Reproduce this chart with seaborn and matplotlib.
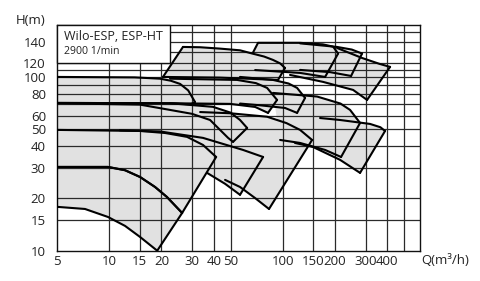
import numpy as np
import matplotlib
matplotlib.use("Agg")
import matplotlib.pyplot as plt
import seaborn as sns

# ---- axis data ----
x_ticks = [5, 10, 15, 20, 30, 40, 50, 100, 150, 200, 300, 400]
x_grid = [10, 15, 20, 30, 40, 50, 100, 150, 200, 300, 400, 500]
y_ticks = [10, 15, 20, 30, 40, 50, 60, 80, 100, 120, 140]
y_grid = [15, 20, 30, 40, 50, 60, 70, 80, 90, 100, 110, 120, 130, 140, 150]

# ---- pump fields (Q in m3/h, H in m): top curve and bottom curve, left -> right ----
a32_q_top = [5, 9.83, 12.33, 15.05, 18.36, 21.5, 26.3]
a32_h_top = [30.4, 30.4, 29.1, 26.6, 23.3, 20.4, 16.5]
a32_q_bot = [5, 7.25, 9.83, 12.33, 15.05, 18.9]
a32_h_bot = [17.9, 17.4, 15.65, 13.9, 12.0, 10.0]

b32_q_top = [5, 15.05, 21.0, 28.1, 34.7, 41.3]
b32_h_top = [49.7, 49.0, 47.7, 45.3, 40.7, 34.7]

b40_q_top = [11.5, 19.6, 34.7, 59.0, 77.0]
b40_h_top = [49.4, 48.7, 44.7, 38.1, 34.7]
b40_q_bot = [36.6, 46.5, 56.7]
b40_h_bot = [28.1, 24.3, 21.0]

b50_q_top = [33.4, 49.7, 81.2, 105, 125.8, 147.5]
b50_h_top = [63.0, 62.0, 59.2, 54.4, 49.7, 43.5]
b50_q_bot = [46.5, 56.7, 69.3, 83.3]
b50_h_bot = [25.6, 23.3, 20.1, 17.4]

b65_q_top = [87.8, 157.6, 215, 244.2, 278.8]
b65_h_top = [81.2, 77.4, 70.5, 64.8, 54.5]
b65_q_bot = [96.5, 125.8, 175.3, 216.7]
b65_h_bot = [43.5, 41.8, 38.1, 34.7]

b80_q_top = [164, 213.8, 318.4, 365, 388.5]
b80_h_top = [58.2, 56.7, 53.8, 51.5, 49.0]
b80_q_bot = [117.6, 149.5, 213.8, 278.8]
b80_h_bot = [41.8, 39.6, 33.4, 28.1]

c32_q_top = [5, 22.4, 39.6, 50.0, 56.7, 62.3]
c32_h_top = [71.1, 70.8, 67.5, 62.5, 56.7, 51.0]
c32_q_bot = [5, 15.05, 22.4, 30.0, 38.1, 48.4, 51.7]
c32_h_bot = [70.8, 69.5, 64.8, 61.5, 56.7, 44.7, 42.4]

d32_q_top = [5, 14.0, 19.6, 22.6, 25.6, 28.5, 31.2]
d32_h_top = [100.4, 99.8, 98.1, 95.5, 91.5, 84.0, 72.0]
d32_q_bot = [5, 22.4, 29.5]
d32_h_bot = [71.1, 70.8, 69.8]

d40_q_top = [22.4, 54.5, 70.0, 81.2, 92.7]
d40_h_top = [98.1, 96.5, 92.5, 86.8, 74.0]
d40_q_bot = [22.4, 49.7, 69.3, 82.2]
d40_h_bot = [70.8, 70.2, 67.4, 62.3]

d50_q_top = [56.7, 87.8, 108, 120.9, 134.4]
d50_h_top = [100.4, 96.5, 92.0, 86.8, 76.0]
d50_q_bot = [56.7, 74.0, 103, 120.9]
d50_h_bot = [70.5, 68.9, 66.5, 62.3]

t1_q_top = [26.6, 33.4, 43.5, 56.7, 67.5, 78.0, 87.8, 96.5, 103]
t1_h_top = [135.0, 134.7, 133.4, 131.8, 128.6, 126.1, 123.1, 120.1, 113.1]
t1_q_bot = [20.4, 43.5, 93.9]
t1_h_bot = [100.4, 99.5, 96.5]

ta_q_top = [67.5, 72.0, 125.8, 170, 194.9, 208.3]
ta_h_top = [130.0, 139.0, 139.0, 137.5, 135.3, 128.8]
ta_q_bot = [69.3, 125.8, 175.3]
ta_h_bot = [110.0, 105.9, 100.4]

tb_q_top = [125.8, 205.5, 250, 286.3]
tb_h_top = [138.5, 135.0, 132.5, 128.8]
tb_q_bot = [125.8, 187.3, 247.5]
tb_h_bot = [110.2, 107.0, 101.7]

tc_q_top = [205.5, 286.3, 360, 415.2]
tc_h_top = [134.0, 124.8, 119.5, 114.7]
tc_q_bot = [110.1, 170.7, 254.2, 306]
tc_h_bot = [103.1, 94.0, 84.5, 74.0]

# shaded area between the 32-160 and 32-200 fields at the left
gap_q = [5, 28.1, 41.3, 51.7, 48.4, 38.1, 22.4, 15.05, 5]
gap_h = [49.7, 45.3, 34.7, 42.4, 44.7, 56.7, 64.8, 69.5, 70.8]

# (top Q, top H, bottom Q, bottom H, draw left edge)
fields = [
    (a32_q_top, a32_h_top, a32_q_bot, a32_h_bot, True),
    (b32_q_top, b32_h_top, a32_q_top, a32_h_top, True),
    (b40_q_top, b40_h_top, b40_q_bot, b40_h_bot, False),
    (b50_q_top, b50_h_top, b50_q_bot, b50_h_bot, False),
    (b65_q_top, b65_h_top, b65_q_bot, b65_h_bot, False),
    (b80_q_top, b80_h_top, b80_q_bot, b80_h_bot, False),
    (c32_q_top, c32_h_top, c32_q_bot, c32_h_bot, False),
    (d32_q_top, d32_h_top, d32_q_bot, d32_h_bot, True),
    (d40_q_top, d40_h_top, d40_q_bot, d40_h_bot, False),
    (d50_q_top, d50_h_top, d50_q_bot, d50_h_bot, False),
    (t1_q_top, t1_h_top, t1_q_bot, t1_h_bot, True),
    (ta_q_top, ta_h_top, ta_q_bot, ta_h_bot, False),
    (tb_q_top, tb_h_top, tb_q_bot, tb_h_bot, False),
    (tc_q_top, tc_h_top, tc_q_bot, tc_h_bot, False),
]

# ---- y scale of the original sheet (labels 120 -> 140 are stretched) ----
_lab = np.log10([1.0, 120.0, 140.0, 10000.0])
_slope = (np.log10(160) - np.log10(120)) / (np.log10(140) - np.log10(120))
_pos = np.array([0.0, np.log10(120), np.log10(160),
                 np.log10(160) + (4 - np.log10(140)) * _slope])


def fwd(v):
    v = np.clip(np.asarray(v, dtype=float), 1e-3, None)
    return np.interp(np.log10(v), _lab, _pos)


def inv(p):
    return 10 ** np.interp(np.asarray(p, dtype=float), _pos, _lab)


sns.set_theme(style="white")
plt.rcParams['font.family'] = ['Open Sans', 'DejaVu Sans']

fig = plt.figure(figsize=(4.8, 2.81), dpi=100)
ax = fig.add_axes([57 / 480, 30.3 / 281, 363.3 / 480, 225.7 / 281])
ax.set_xscale('log')
ax.set_yscale('function', functions=(fwd, inv))
ax.set_xlim(5, 620)
ax.set_ylim(10, 157.8)

fill_c = '#e1e1e1'
ax.fill(gap_q, gap_h, color=fill_c, lw=0, zorder=1)
for qt, ht, qb, hb, _ in fields:
    px = list(qt) + list(qb)[::-1]
    py = list(ht) + list(hb)[::-1]
    ax.fill(px, py, color=fill_c, lw=0, zorder=1)

for g in x_grid:
    ax.axvline(g, color='#2a2a2a', lw=0.9, zorder=2)
for g in y_grid:
    ax.axhline(g, color='#2a2a2a', lw=0.9, zorder=2)

lw_c = 1.5
for qt, ht, qb, hb, left in fields:
    sns.lineplot(x=qt, y=ht, sort=False, estimator=None, color='black', lw=lw_c, ax=ax, zorder=3)
    sns.lineplot(x=qb, y=hb, sort=False, estimator=None, color='black', lw=lw_c, ax=ax, zorder=3)
    sns.lineplot(x=[qt[-1], qb[-1]], y=[ht[-1], hb[-1]], sort=False, estimator=None,
                 color='black', lw=lw_c, ax=ax, zorder=3)
    if left:
        sns.lineplot(x=[qt[0], qb[0]], y=[ht[0], hb[0]], sort=False, estimator=None,
                     color='black', lw=lw_c, ax=ax, zorder=3)

ax.set_xticks(x_ticks)
ax.set_xticklabels([str(t) for t in x_ticks])
ax.set_yticks(y_ticks)
ax.set_yticklabels([str(t) for t in y_ticks])
ax.minorticks_off()
ax.tick_params(axis='x', length=0, labelsize=9.5, colors='#222222', pad=3)
ax.tick_params(axis='y', length=0, labelsize=9.5, colors='#222222', pad=8)
for s in ax.spines.values():
    s.set_color('#111111')
    s.set_linewidth(1.0)
ax.set_xlabel('')
ax.set_ylabel('')

fig.text(31 / 480, 1 - 20 / 281, 'H(m)', ha='center', va='center', fontsize=9.5, color='#222222')
fig.text(421 / 480, 1 - 261 / 281, 'Q(m³/h)', ha='left', va='center', fontsize=9.5, color='#222222')

# title box
ax.add_patch(plt.Rectangle((0, 1 - (63.3 - 25) / 225.7), (170 - 57) / 363.3, (63.3 - 25) / 225.7,
                           transform=ax.transAxes, facecolor='white', edgecolor='#111111',
                           lw=1.0, zorder=5, clip_on=False))
ax.text(7 / 363.3, 1 - 11 / 225.7, 'Wilo-ESP, ESP-HT', transform=ax.transAxes,
        fontsize=9, va='center', ha='left', color='#222222', zorder=6)
ax.text(7 / 363.3, 1 - 26.5 / 225.7, '2900 1/min', transform=ax.transAxes,
        fontsize=7.6, va='center', ha='left', color='#222222', zorder=6)

fig.savefig('out.png', dpi=100)
